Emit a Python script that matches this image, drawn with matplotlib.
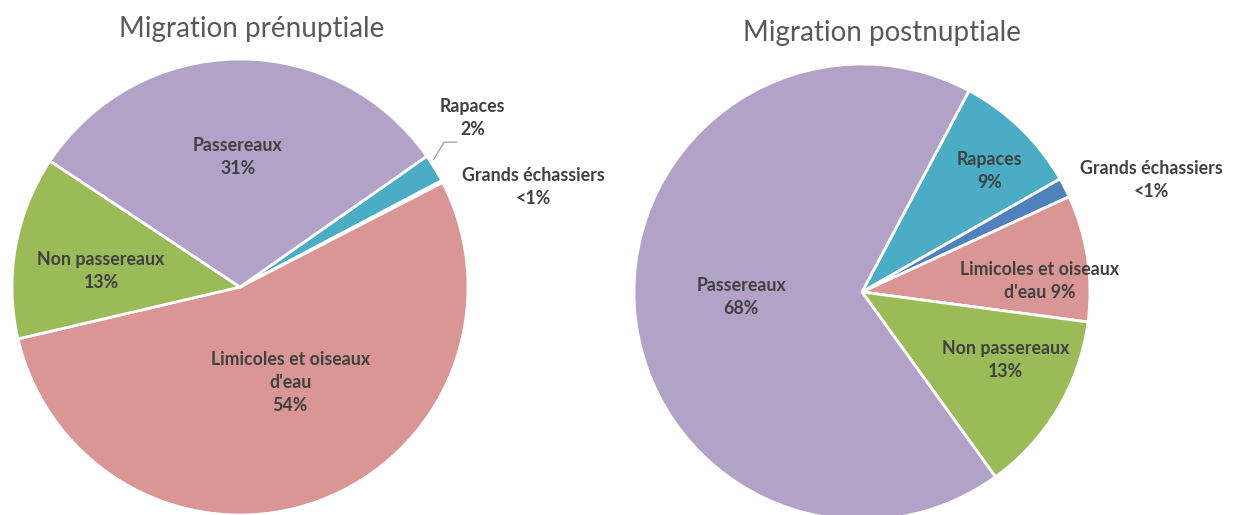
import matplotlib.pyplot as plt

# categories in the order the slices are drawn (clockwise)
categories = ['Rapaces', 'Grands échassiers', 'Limicoles et oiseaux d\'eau', 'Non passereaux', 'Passereaux']
colors = ['#4BACC6', '#4F81BD', '#D99694', '#9BBB59', '#B3A2C7']

prenup_values = [2, 0.15, 54, 13, 31]
postnup_values = [9, 1.4, 9, 13, 68]

prenup_labels = ['Rapaces\n2%', 'Grands échassiers\n<1%', 'Limicoles et oiseaux\nd\'eau\n54%',
                 'Non passereaux\n13%', 'Passereaux\n31%']
postnup_labels = ['Rapaces\n9%', 'Grands échassiers\n<1%', 'Limicoles et oiseaux\nd\'eau 9%',
                  'Non passereaux\n13%', 'Passereaux\n68%']

plt.rcParams['font.family'] = ['Lato', 'DejaVu Sans']
txt_color = '#404040'

fig = plt.figure(figsize=(12.47, 5.15), dpi=100)

# left pie: centre (240, 287) px, radius 228 px
ax1 = fig.add_axes([12 / 1247, 0 / 515, 456 / 1247, 456 / 515])
# right pie: centre (862, 292) px
ax2 = fig.add_axes([634 / 1247, -5 / 515, 456 / 1247, 456 / 515])

for ax, vals, start in [(ax1, prenup_values, 35), (ax2, postnup_values, 62)]:
    ax.pie(vals, colors=colors, startangle=start, counterclock=False,
           wedgeprops=dict(edgecolor='white', linewidth=2), radius=1)
    ax.set_xlim(-1, 1)
    ax.set_ylim(-1, 1)
    ax.set_aspect('equal')
    ax.axis('off')

# label positions in pie units (centre 0,0, radius 1)
prenup_pos = [(1.02, 0.74), (1.285, 0.44), (0.22, -0.42), (-0.61, 0.07), (-0.01, 0.57)]
postnup_pos = [(0.56, 0.53), (1.27, 0.49), (0.78, 0.05), (0.63, -0.30), (-0.53, -0.02)]

for ax, labels, pos in [(ax1, prenup_labels, prenup_pos), (ax2, postnup_labels, postnup_pos)]:
    for lab, (x, y) in zip(labels, pos):
        ax.text(x, y, lab, ha='center', va='center', fontsize=12.8, fontweight='bold',
                color=txt_color, linespacing=1.42, clip_on=False)

# leader line for small "Rapaces" slice on the left pie
ax1.plot([0.85, 0.895, 0.95], [0.56, 0.635, 0.635], color='#A6A6A6', lw=1, clip_on=False)

fig.text(252 / 1247, 1 - 29 / 515, 'Migration prénuptiale', ha='center', va='center',
         fontsize=20, color='#595959')
fig.text(882 / 1247, 1 - 33 / 515, 'Migration postnuptiale', ha='center', va='center',
         fontsize=20, color='#595959')

fig.savefig('out.png', dpi=100, facecolor='white')
